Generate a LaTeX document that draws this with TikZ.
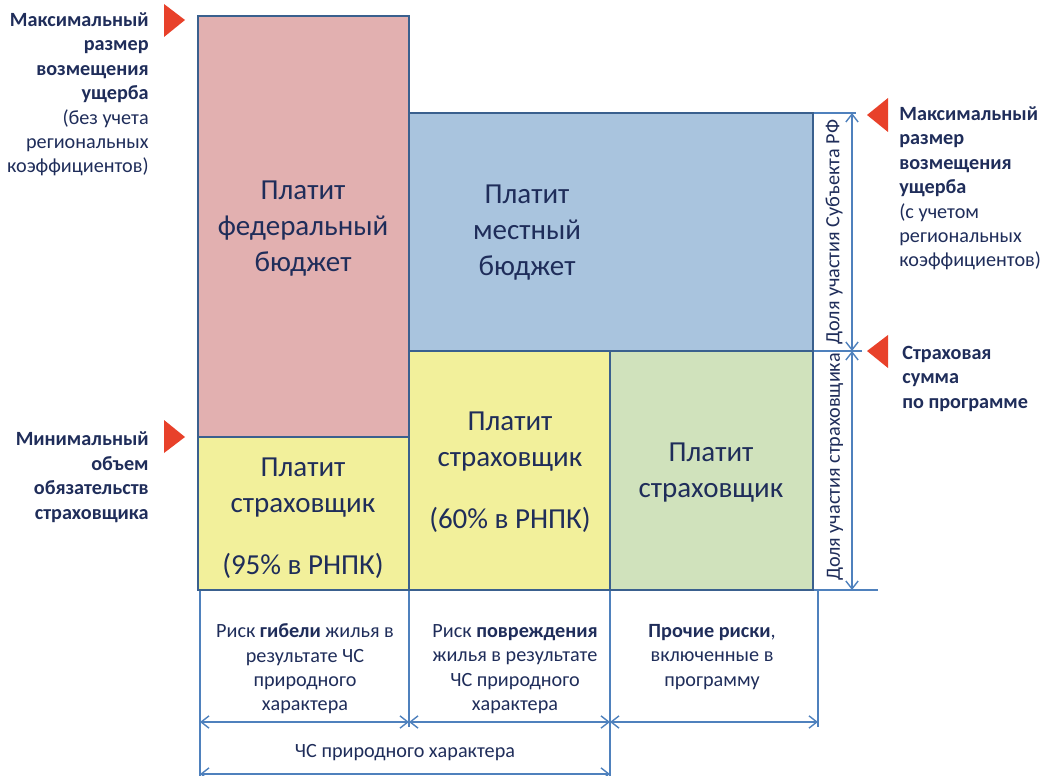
\documentclass[tikz,border=0pt]{standalone}
\usepackage{fontspec}
\setmainfont{Carlito}
\usepackage{xcolor}
\usepackage{tikz}
\usetikzlibrary{arrows.meta}

\definecolor{navy}{RGB}{31,45,90}
\definecolor{boxline}{RGB}{58,96,142}
\definecolor{dimblue}{RGB}{79,129,189}
\definecolor{fedred}{RGB}{226,176,176}
\definecolor{locblue}{RGB}{169,196,222}
\definecolor{insyellow}{RGB}{242,240,155}
\definecolor{insgreen}{RGB}{208,226,188}
\definecolor{flagred}{RGB}{232,65,42}

\tikzset{
  box/.style={draw=boxline, line width=1.4pt},
  dimline/.style={draw=dimblue, line width=0.8pt},
  dimarrow/.style={dimline, {Straight Barb[length=4.5pt,width=7pt]}-{Straight Barb[length=4.5pt,width=7pt]}},
  bigtext/.style={text=navy, align=center, font=\fontsize{16.5}{20.5}\selectfont},
  smalltext/.style={text=navy, align=center, font=\fontsize{11.5}{13.9}\selectfont},
  lefttext/.style={text=navy, align=right, anchor=base east, inner sep=0pt, font=\fontsize{11.5}{13.9}\selectfont},
  righttext/.style={text=navy, align=left, anchor=base west, inner sep=0pt, font=\fontsize{11.5}{13.9}\selectfont},
  flag/.style={fill=flagred}
}

\begin{document}
\begin{tikzpicture}[x=0.02cm, y=-0.02cm]
\useasboundingbox (0,0) rectangle (1050,776);

\fill[fedred] (198,16) rectangle (409,437);
\fill[insyellow] (198,437) rectangle (409,590);
\fill[locblue] (409,113) rectangle (813,351);
\fill[insyellow] (409,351) rectangle (610,590);
\fill[insgreen] (610,351) rectangle (813,590);

\draw[dimline] (813,113) -- (856,113);
\draw[dimline] (813,351) -- (862,351);
\draw[dimline] (198,590) -- (878,590);
\draw[dimline] (200,590) -- (200,776);
\draw[dimline] (409,590) -- (409,727);
\draw[dimline] (610,590) -- (610,776);
\draw[dimline] (818,590) -- (818,727);

\draw[box] (198,16) rectangle (409,437);
\draw[box] (198,437) rectangle (409,590);
\draw[box] (409,113) rectangle (813,351);
\draw[box] (409,351) rectangle (610,590);
\draw[box] (610,351) rectangle (813,590);

\node[bigtext] (fed) at (303,229) {Платит\\федеральный\\бюджет};
\node[bigtext] (loc) at (527,233) {Платит\\местный\\бюджет};
\node[bigtext] (ins95) at (303,518) {Платит\\страховщик\\[14.5pt](95\% в РНПК)};
\node[bigtext] (ins60) at (510,472) {Платит\\страховщик\\[14.5pt](60\% в РНПК)};
\node[bigtext] (insoth) at (711,473) {Платит\\страховщик};

\coordinate (s1) at (852,113);
\coordinate (s2) at (852,351);
\coordinate (s3) at (852,590);
\draw[dimarrow] (s1) -- (s2);
\draw[dimarrow] (s2) -- (s3);
\node[smalltext, rotate=90] (subj) at (834,232) {Доля участия Субъекта РФ};
\node[smalltext, rotate=90] (share) at (835,467) {Доля участия страховщика};

\coordinate (b1) at (200,722);
\coordinate (b2) at (409,722);
\coordinate (b3) at (610,722);
\coordinate (b4) at (818,722);
\coordinate (c1) at (200,774);
\coordinate (c2) at (610,774);
\draw[dimarrow] (b1) -- (b2);
\draw[dimarrow] (b2) -- (b3);
\draw[dimarrow] (b3) -- (b4);
\draw[dimarrow] (c1) -- (c2);

\node[smalltext] (death) at (305,669) {Риск \textbf{гибели} жилья в\\результате ЧС\\природного\\характера};
\node[smalltext] (damage) at (515,669) {Риск \textbf{повреждения}\\жилья в результате\\ЧС природного\\характера};
\node[smalltext] (other) at (712,657) {\textbf{Прочие риски},\\включенные в\\программу};
\node[smalltext] (nat) at (405,753) {ЧС природного характера};

\fill[flag] (164,4) -- (185,20) -- (164,37) -- cycle;
\fill[flag] (164,420) -- (185,437) -- (164,453) -- cycle;
\fill[flag] (888,98) -- (867,115) -- (888,132) -- cycle;
\fill[flag] (888,335) -- (867,351) -- (888,368) -- cycle;

\node[lefttext] (maxfed) at (149,173) {\textbf{Максимальный}\\\textbf{размер}\\\textbf{возмещения}\\\textbf{ущерба}\\(без учета\\региональных\\коэффициентов)};
\node[lefttext] (minins) at (149,519) {\textbf{Минимальный}\\\textbf{объем}\\\textbf{обязательств}\\\textbf{страховщика}};
\node[righttext] (maxloc) at (899,267) {\textbf{Максимальный}\\\textbf{размер}\\\textbf{возмещения}\\\textbf{ущерба}\\(с учетом\\региональных\\коэффициентов)};
\node[righttext] (sum) at (902,408) {\textbf{Страховая}\\\textbf{сумма}\\\textbf{по программе}};
\end{tikzpicture}
\end{document}
